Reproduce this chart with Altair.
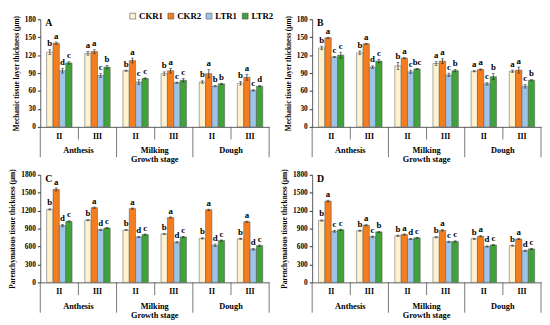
import altair as alt
import pandas as pd

stages = ["Anthesis", "Milking", "Dough"]
levels = ["II", "III"]
treatments = ["CKR1", "CKR2", "LTR1", "LTR2"]
colors = ["#FFF2CC", "#F47D20", "#9DC3E6", "#3FA33A"]

# rows: Anthesis-II, Anthesis-III, Milking-II, Milking-III, Dough-II, Dough-III
A_mean = [[125, 140, 94, 107], [123, 126, 86, 100], [94, 111, 75, 81],
          [89, 94, 74, 78], [75, 89, 68, 72], [73, 83, 61, 68]]
A_err = [[4, 2, 4, 2], [3, 3, 3, 3], [1, 4, 4, 1], [3, 4, 1, 3], [2, 7, 1, 1], [3, 5, 1, 1]]
A_let = [["b", "a", "d", "c"], ["a", "a", "c", "b"], ["b", "a", "c", "c"],
         ["b", "a", "c", "c"], ["b", "a", "b", "b"], ["b", "a", "c", "d"]]

B_mean = [[132, 149, 117, 120], [124, 139, 100, 110], [102, 115, 92, 97],
          [106, 110, 87, 94], [93, 96, 72, 84], [93, 95, 68, 78]]
B_err = [[3, 1, 1, 5], [3, 1, 2, 3], [6, 1, 3, 1], [3, 4, 3, 2], [1, 1, 2, 5], [2, 5, 3, 1]]
B_let = [["b", "a", "c", "c"], ["b", "a", "d", "c"], ["b", "a", "c", "bc"],
         ["a", "a", "c", "b"], ["a", "a", "c", "b"], ["a", "a", "c", "b"]]

C_mean = [[1220, 1555, 950, 1020], [1040, 1250, 880, 910], [875, 1235, 760, 800],
          [810, 1085, 670, 760], [735, 1215, 620, 700], [730, 1015, 555, 615]]
C_err = [[10, 25, 20, 10], [10, 10, 10, 10], [10, 10, 10, 10],
         [10, 10, 10, 10], [10, 10, 20, 10], [10, 10, 15, 10]]
C_let = [["b", "a", "d", "c"]] * 6

D_mean = [[1035, 1360, 855, 880], [865, 955, 765, 845], [780, 800, 725, 745],
          [755, 870, 680, 685], [730, 770, 600, 625], [615, 725, 530, 560]]
D_err = [[10, 15, 15, 10], [10, 10, 10, 10], [10, 10, 10, 10],
         [10, 10, 10, 10], [10, 10, 10, 10], [10, 10, 10, 10]]
D_let = [["b", "a", "c", "c"], ["b", "a", "c", "b"], ["b", "a", "d", "c"],
         ["b", "a", "c", "c"], ["b", "a", "d", "c"], ["b", "a", "d", "c"]]

FONT = "Liberation Serif"
W, H = 234, 110
grp_order = [f"{s} {l}" for s in stages for l in levels]


def make_df(mean, err, let):
    rows = []
    i = 0
    for s in stages:
        for l in levels:
            for j, t in enumerate(treatments):
                m, e = mean[i][j], err[i][j]
                rows.append(dict(grp=f"{s} {l}", stage=s, level=l, trt=t, mean=m,
                                 lo=m - e, hi=m + e, letter=let[i][j]))
            i += 1
    return pd.DataFrame(rows)


def panel(mean, err, let, ymax, step, ytitle, tag, legend):
    df = make_df(mean, err, let)
    xenc = alt.X("grp:N", sort=grp_order,
                 scale=alt.Scale(paddingInner=0, paddingOuter=0),
                 axis=alt.Axis(labels=False, ticks=False, title=None,
                               domainColor="#333", domainWidth=0.8))
    xoff = alt.XOffset("trt:N", sort=treatments,
                       scale=alt.Scale(paddingOuter=1, paddingInner=0))
    yscale = alt.Scale(domain=[0, ymax], nice=False)
    yaxis = alt.Axis(values=list(range(0, ymax + 1, step)), format="d", grid=False,
                     tickSize=3, tickColor="#333", domainColor="#333", domainWidth=0.8,
                     labelFont=FONT, labelFontSize=7.5, labelFontWeight="bold",
                     labelColor="black", labelPadding=2, labelOverlap=False,
                     labelFlush=False,
                     title=ytitle, titleFont=FONT, titleFontSize=7.5,
                     titleFontWeight="bold", titleColor="black", titlePadding=4)
    if legend:
        leg = alt.Legend(orient="none", legendX=90, legendY=-8, direction="horizontal",
                         title=None, symbolType="square", symbolSize=36,
                         symbolStrokeColor="#555", symbolStrokeWidth=0.6,
                         labelFont=FONT, labelFontSize=9, labelFontWeight="bold",
                         labelColor="black", labelOffset=2, columnPadding=3)
    else:
        leg = None
    base = alt.Chart(df).encode(x=xenc, xOffset=xoff)
    bars = base.mark_bar(stroke="#555", strokeWidth=0.5).encode(
        y=alt.Y("mean:Q", scale=yscale, axis=yaxis),
        color=alt.Color("trt:N", sort=treatments,
                        scale=alt.Scale(domain=treatments, range=colors), legend=leg),
    )
    rules = base.mark_rule(color="#222", strokeWidth=0.7).encode(
        y=alt.Y("lo:Q", scale=yscale, axis=yaxis), y2="hi:Q")
    cap_hi = base.mark_tick(color="#222", size=3, thickness=0.7).encode(
        y=alt.Y("hi:Q", scale=yscale, axis=yaxis))
    cap_lo = base.mark_tick(color="#222", size=3, thickness=0.7).encode(
        y=alt.Y("lo:Q", scale=yscale, axis=yaxis))
    letters = base.mark_text(font=FONT, fontSize=9, fontWeight="bold", baseline="bottom",
                             dy=-1.5, color="black").encode(
        y=alt.Y("hi:Q", scale=yscale, axis=yaxis), text="letter:N")

    sep_df = pd.DataFrame({"grp": grp_order, "level": [l for s in stages for l in levels]})
    long_sep = alt.Chart(sep_df).transform_filter(alt.datum.level == "II").mark_rule(
        color="#555", strokeWidth=0.8).encode(
        x=alt.X("grp:N", sort=grp_order, bandPosition=0),
        y=alt.value(H), y2=alt.value(H + 31))
    short_sep = alt.Chart(sep_df).transform_filter(alt.datum.level == "III").mark_rule(
        color="#555", strokeWidth=0.8).encode(
        x=alt.X("grp:N", sort=grp_order, bandPosition=0),
        y=alt.value(H), y2=alt.value(H + 13))
    end_sep = alt.Chart(sep_df).transform_filter(alt.datum.grp == grp_order[-1]).mark_rule(
        color="#555", strokeWidth=0.8).encode(
        x=alt.X("grp:N", sort=grp_order, bandPosition=1),
        y=alt.value(H), y2=alt.value(H + 31))
    lvl_text = alt.Chart(sep_df).mark_text(font=FONT, fontSize=8, fontWeight="bold",
                                           baseline="middle", color="black").encode(
        x=alt.X("grp:N", sort=grp_order), y=alt.value(H + 10), text="level:N")
    stage_df = pd.DataFrame({"stage": stages, "grp": [f"{s} III" for s in stages]})
    stage_text = alt.Chart(stage_df).mark_text(font=FONT, fontSize=8.5, fontWeight="bold",
                                               baseline="middle", color="black").encode(
        x=alt.X("grp:N", sort=grp_order, bandPosition=0), y=alt.value(H + 24),
        text="stage:N")
    gs_text = alt.Chart(pd.DataFrame({"t": ["Growth stage"]})).mark_text(
        font=FONT, fontSize=8.5, fontWeight="bold", baseline="middle", color="black").encode(
        x=alt.value(W / 2), y=alt.value(H + 33), text="t:N")
    tag_text = alt.Chart(pd.DataFrame({"t": [tag]})).mark_text(
        font=FONT, fontSize=10, fontWeight="bold", baseline="top", align="left",
        color="black").encode(x=alt.value(5), y=alt.value(-1), text="t:N")

    return alt.layer(bars, rules, cap_hi, cap_lo, letters, long_sep, short_sep, end_sep,
                     lvl_text, stage_text, gs_text, tag_text).properties(width=W, height=H)


mt = "Mechanic tissue layer thickness (μm)"
pt = "Parenchymatous tissue thickness (μm)"
pA = panel(A_mean, A_err, A_let, 180, 30, mt, "A", True)
pB = panel(B_mean, B_err, B_let, 180, 30, mt, "B", False)
pC = panel(C_mean, C_err, C_let, 1800, 300, pt, "C", False)
pD = panel(D_mean, D_err, D_let, 1800, 300, pt, "D", False)

chart = alt.vconcat(
    alt.hconcat(pA, pB, spacing=10).resolve_scale(color="independent"),
    alt.hconcat(pC, pD, spacing=10).resolve_scale(color="independent"),
    spacing=4,
).resolve_scale(color="independent").properties(padding=0).configure_view(stroke=None)

chart.save("out.html", embed_options={"renderer": "svg", "actions": False})
